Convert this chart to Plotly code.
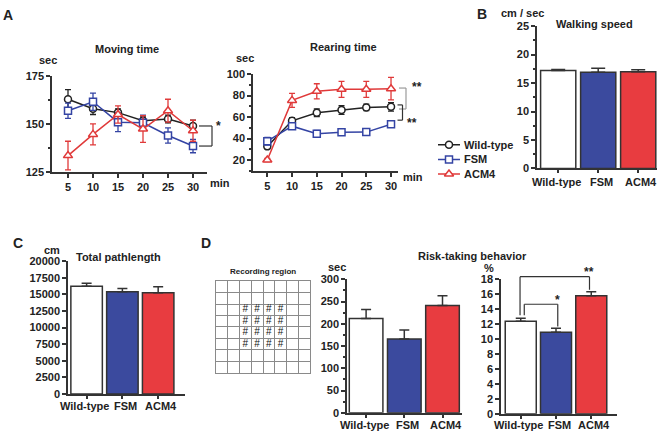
import plotly.graph_objects as go

W, H = 661, 438

# ---------------- data ----------------
minutes = [5, 10, 15, 20, 25, 30]
groups = ["Wild-type", "FSM", "ACM4"]

moving_wt = [163, 158, 156, 151.7, 152.7, 149]
moving_wt_err = [5, 3, 2, 2, 2, 3]
moving_fsm = [157, 161.7, 151, 150.7, 144, 138.5]
moving_fsm_err = [4, 4.5, 5, 4, 4, 3.5]
moving_acm4 = [133.5, 144.6, 155, 147.4, 157, 146.5]
moving_acm4_err = [7.5, 5.5, 4.5, 7, 6, 5.5]

rearing_wt = [32.7, 56.5, 64, 66.5, 69, 69.5]
rearing_wt_err = [2, 3, 3.5, 4, 3, 4]
rearing_fsm = [37.5, 51.5, 44.5, 45.8, 46, 53.3]
rearing_fsm_err = [3.5, 3, 3, 2, 2, 3]
rearing_acm4 = [20, 75.5, 84, 85.8, 85.8, 86.4]
rearing_acm4_err = [1.5, 6.5, 7, 7.5, 7.5, 10.5]

speed = [17.2, 16.9, 17.0]
speed_err = [0.2, 0.7, 0.35]
pathlength = [16200, 15400, 15250]
pathlength_err = [480, 480, 880]
risk_sec = [212, 166, 241]
risk_sec_err = [20, 20, 22]
risk_pct = [12.4, 10.9, 15.8]
risk_pct_err = [0.4, 0.55, 0.55]

grid_cells = 8
center_cells = [2, 3, 4, 5]

# ---------------- style ----------------
FONT = "Liberation Sans, Arial, sans-serif"
TXT = "#222222"
AX = "#333333"
LINE_COLORS = ["#222222", "#3444a4", "#e03a3a"]
BAR_COLORS = ["#ffffff", "#3b4a9e", "#e83c40"]
SYMBOLS = ["circle", "square", "triangle-up"]
MSIZE = [7, 7, 8]

panels = {
    "mov": dict(n=1, xd=(52, 207), yd=(72.3, 170.5), xr=(1.8, 32.8), yr=(125, 175)),
    "rear": dict(n=2, xd=(253, 398), yd=(70, 169.4), xr=(2.11, 31.41), yr=(10, 100)),
    "speed": dict(n=3, xd=(537, 657), yd=(20.7, 167), xr=(-0.53, 2.47), yr=(0, 25)),
    "path": dict(n=4, xd=(68, 185), yd=(262.3, 399), xr=(-0.52, 2.75), yr=(0, 20000)),
    "grid": dict(n=5, xd=(216, 310), yd=(283, 377), xr=(0, 8), yr=(8, 0)),
    "rsec": dict(n=6, xd=(347, 461.6), yd=(281, 418.3), xr=(-0.5, 2.5), yr=(0, 300)),
    "rpct": dict(n=7, xd=(501, 617), yd=(281, 419.3), xr=(-0.56, 2.73), yr=(0, 18)),
    "leg": dict(n=8, xd=(436, 530), yd=(134, 181), xr=(0, 94), yr=(47, 0)),
}


def dx(p, x):
    s = panels[p]
    return (s["xd"][0] + (x - s["xr"][0]) / (s["xr"][1] - s["xr"][0]) * (s["xd"][1] - s["xd"][0])) / W


def dy(p, y):
    s = panels[p]
    ypx = s["yd"][1] - (y - s["yr"][0]) / (s["yr"][1] - s["yr"][0]) * (s["yd"][1] - s["yd"][0])
    return 1 - ypx / H


def ref(p):
    n = panels[p]["n"]
    return ("x" if n == 1 else f"x{n}"), ("y" if n == 1 else f"y{n}")


fig = go.Figure()
layout = dict(
    width=W, height=H, margin=dict(l=0, r=0, t=0, b=0),
    paper_bgcolor="white", plot_bgcolor="white", showlegend=False,
    font=dict(family=FONT, size=11, color=TXT),
)

tickfont = dict(family=FONT, size=11, color=TXT, weight="bold")
for key, s in panels.items():
    n = s["n"]
    xa = "xaxis" if n == 1 else f"xaxis{n}"
    ya = "yaxis" if n == 1 else f"yaxis{n}"
    xname, yname = ref(key)
    layout[xa] = dict(domain=[s["xd"][0] / W, s["xd"][1] / W], range=list(s["xr"]),
                      anchor=yname, showgrid=False, zeroline=False,
                      showline=True, linecolor=AX, linewidth=1.5,
                      ticks="outside", ticklen=4, tickwidth=1.5, tickcolor=AX,
                      tickfont=tickfont, fixedrange=True)
    layout[ya] = dict(domain=[1 - s["yd"][1] / H, 1 - s["yd"][0] / H], range=list(s["yr"]),
                      anchor=xname, showgrid=False, zeroline=False,
                      showline=True, linecolor=AX, linewidth=1.5,
                      ticks="outside", ticklen=4, tickwidth=1.5, tickcolor=AX,
                      tickfont=tickfont, fixedrange=True)

# line panels axes details
layout["xaxis"].update(tickvals=minutes)
layout["yaxis"].update(tickvals=[125, 150, 175], minor=dict(tickvals=[137.5, 162.5], ticklen=2, tickcolor=AX, ticks="outside"))
layout["xaxis2"].update(tickvals=minutes)
layout["yaxis2"].update(tickvals=[20, 40, 60, 80, 100], minor=dict(dtick=10, ticklen=2, tickcolor=AX, ticks="outside"))

# bar axes: ticks at bars, labels drawn as annotations
for k in ["speed", "path", "rsec", "rpct"]:
    n = panels[k]["n"]
    layout[f"xaxis{n}"].update(tickvals=[0, 1, 2], showticklabels=False, ticklen=3)
layout["yaxis3"].update(dtick=5, minor=dict(dtick=2.5, ticklen=2, tickcolor=AX, ticks="outside"))
layout["yaxis4"].update(dtick=2500, tickformat="d")
layout["yaxis6"].update(dtick=50, minor=dict(dtick=25, ticklen=2, tickcolor=AX, ticks="outside"))
layout["yaxis7"].update(dtick=2)

# grid axis
for a in ["xaxis5", "yaxis5"]:
    layout[a].update(showgrid=True, gridcolor="#8a8a8a", gridwidth=1, tickvals=list(range(grid_cells + 1)),
                     showticklabels=False, ticks="", linecolor="#8a8a8a", linewidth=1, mirror=True)
# legend axis
for a in ["xaxis8", "yaxis8"]:
    layout[a].update(visible=False)

# ---------------- line traces ----------------
series_mov = [(moving_wt, moving_wt_err), (moving_fsm, moving_fsm_err), (moving_acm4, moving_acm4_err)]
series_rear = [(rearing_wt, rearing_wt_err), (rearing_fsm, rearing_fsm_err), (rearing_acm4, rearing_acm4_err)]
for pkey, series in [("mov", series_mov), ("rear", series_rear)]:
    xr_, yr_ = ref(pkey)
    for i, (vals, errs) in enumerate(series):
        fig.add_trace(go.Scatter(
            x=minutes, y=vals, xaxis=xr_, yaxis=yr_, mode="lines+markers", name=groups[i],
            line=dict(color=LINE_COLORS[i], width=1.5),
            marker=dict(symbol=SYMBOLS[i], size=MSIZE[i], color="white",
                        line=dict(color=LINE_COLORS[i], width=1.5)),
            error_y=dict(type="data", array=errs, color=LINE_COLORS[i], thickness=1.3, width=3),
            cliponaxis=False,
        ))

# ---------------- bar traces ----------------
for pkey, vals, errs in [("speed", speed, speed_err), ("path", pathlength, pathlength_err),
                          ("rsec", risk_sec, risk_sec_err), ("rpct", risk_pct, risk_pct_err)]:
    xr_, yr_ = ref(pkey)
    fig.add_trace(go.Bar(
        x=[0, 1, 2], y=vals, xaxis=xr_, yaxis=yr_, width=0.88,
        marker=dict(color=BAR_COLORS, line=dict(color=AX, width=1.5)),
        error_y=dict(type="data", array=errs, arrayminus=[0, 0, 0], color=AX, thickness=1.5,
                     width=7 if pkey == "speed" else 5),
    ))

# ---------------- recording grid ----------------
gx, gy = [], []
for r in center_cells:
    for c in center_cells:
        gx.append(c + 0.5)
        gy.append(r + 0.5)
fig.add_trace(go.Scatter(x=gx, y=gy, xaxis="x5", yaxis="y5", mode="text", text=["#"] * len(gx),
                         textfont=dict(family=FONT, size=10, color="#111111")))

# ---------------- manual legend ----------------
leg_rows = [8.7, 23.7, 38.7]
for i in range(3):
    fig.add_trace(go.Scatter(x=[2, 24], y=[leg_rows[i]] * 2, xaxis="x8", yaxis="y8", mode="lines",
                             line=dict(color=LINE_COLORS[i], width=1.5)))
    fig.add_trace(go.Scatter(x=[13], y=[leg_rows[i]], xaxis="x8", yaxis="y8", mode="markers",
                             marker=dict(symbol=SYMBOLS[i], size=MSIZE[i], color="white",
                                         line=dict(color=LINE_COLORS[i], width=1.5))))

annotations = []


def ann(text, x, y, size=11, xanchor="center", yanchor="middle", weight="bold", xref="paper", yref="paper",
        color=TXT, xshift=0):
    annotations.append(dict(text=text, x=x, y=y, xref=xref, yref=yref, xanchor=xanchor, yanchor=yanchor,
                            showarrow=False, xshift=xshift,
                            font=dict(family=FONT, size=size, color=color, weight=weight)))


def P(xp, yp):
    return xp / W, 1 - yp / H


for i in range(3):
    ann(groups[i], 26, leg_rows[i], xanchor="left", xref="x8", yref="y8")

# category labels under bars
label_shift = [-2, 3, 3]
for pkey, ypx in [("speed", 181), ("path", 411), ("rsec", 431), ("rpct", 431)]:
    xr_, _ = ref(pkey)
    for i, g in enumerate(groups):
        ann(g, i, 1 - ypx / H, xref=xr_, xshift=label_shift[i])

# panel letters
for letter, xp, yp in [("A", 8, 9), ("B", 482, 8), ("C", 18, 244), ("D", 206, 244)]:
    x, y = P(xp, yp)
    ann(letter, x, y, size=14)

# titles and units
for text, xp, yp, size in [
    ("Moving time", 127, 44, 11),
    ("sec", 48, 56, 11),
    ("min", 220, 182, 11),
    ("Rearing time", 343, 42, 11),
    ("sec", 245, 53, 11),
    ("min", 413, 176, 11),
    ("cm / sec", 522, 7, 11),
    ("Walking speed", 594, 18, 11),
    ("cm", 52, 251, 11),
    ("Total pathlength", 118, 258, 11),
    ("Recording region", 263, 273, 8),
    ("Risk-taking behavior", 472, 257, 11),
    ("sec", 337, 268, 11),
    ("%", 489, 269, 11),
]:
    x, y = P(xp, yp)
    ann(text, x, y, size=size)

# significance stars
for text, xp, yp in [("*", 218, 123), ("**", 417, 83), ("**", 412, 120), ("*", 557, 302), ("**", 589, 274)]:
    x, y = P(xp, yp)
    ann(text, x, y, size=12)

shapes = []


def seg(x0, y0, x1, y1, color=AX, width=1.2):
    shapes.append(dict(type="line", xref="paper", yref="paper", x0=x0, y0=y0, x1=x1, y1=y1,
                       line=dict(color=color, width=width)))


def bracket_v(p, x0px, x1px, ya, yb, color=AX):
    X0, X1 = x0px / W, x1px / W
    Ya, Yb = dy(p, ya), dy(p, yb)
    seg(X0, Ya, X1, Ya, color)
    seg(X0, Yb, X1, Yb, color)
    seg(X1, Ya, X1, Yb, color)


bracket_v("mov", 199, 212, moving_wt[-1], moving_fsm[-1])
bracket_v("rear", 399, 406, 87, 67.5, color="#9a9a9a")
bracket_v("rear", 397.5, 402.5, 71.3, 57.1)


def bracket_h(p, xa, xb, ya_bottom, ytop, yb_bottom):
    Xa, Xb = dx(p, xa), dx(p, xb)
    seg(Xa, dy(p, ya_bottom), Xa, dy(p, ytop))
    seg(Xa, dy(p, ytop), Xb, dy(p, ytop))
    seg(Xb, dy(p, ytop), Xb, dy(p, yb_bottom))


bracket_h("rpct", 0.1, 1.05, 13.2, 14.66, 11.7)
bracket_h("rpct", -0.02, 1.95, 13.2, 18.35, 16.6)

layout["annotations"] = annotations
layout["shapes"] = shapes
fig.update_layout(**layout)
fig.write_html("out.html", config={"displayModeBar": False},
               post_script="document.body.style.margin='0';document.body.style.overflow='hidden';")
